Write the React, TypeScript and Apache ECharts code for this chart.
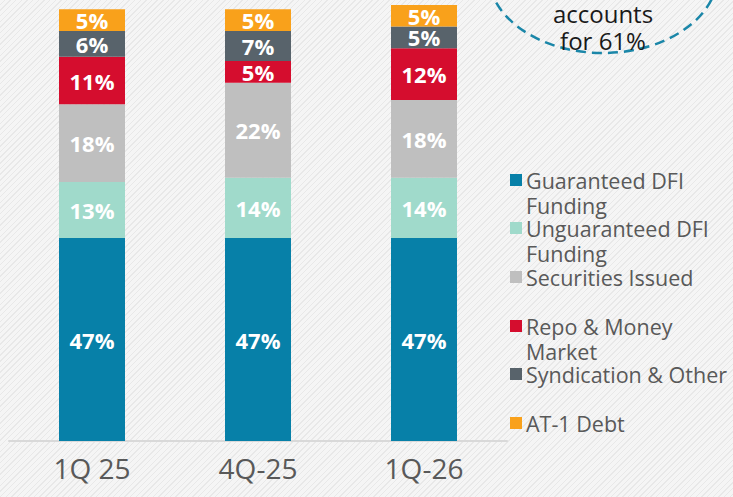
import React, { useEffect, useRef } from "react";
import * as echarts from "echarts";

const categories = ["1Q 25", "4Q-25", "1Q-26"];
const seriesNames = [
  "Guaranteed DFI Funding",
  "Unguaranteed DFI Funding",
  "Securities Issued",
  "Repo & Money Market",
  "Syndication & Other",
  "AT-1 Debt",
];
const guaranteed = [47, 47, 47];
const unguaranteed = [13, 14, 14];
const securities = [18, 22, 18];
const repo = [11, 5, 12];
const syndication = [6, 7, 5];
const at1 = [5, 5, 5];
const legendLabels = [
  "Guaranteed DFI\nFunding",
  "Unguaranteed DFI\nFunding",
  "Securities Issued",
  "Repo & Money\nMarket",
  "Syndication & Other",
  "AT-1 Debt",
];
const calloutLines = ["accounts", "for 61%"];

const colors = ["#0780A8", "#A0DACB", "#BFBFBF", "#D50D2E", "#58636B", "#F9A11B"];
const iconCenters = [180, 228, 277, 326, 374, 423];

export default function App() {
  const ref = useRef<HTMLDivElement>(null);
  useEffect(() => {
    const chart = echarts.init(ref.current!, null, { renderer: "svg" });
    const values = [guaranteed, unguaranteed, securities, repo, syndication, at1];
    const font = "'Open Sans', 'Noto Sans', sans-serif";
    const legends = seriesNames.map((name, i) => {
      const twoLine = legendLabels[i].includes("\n");
      return {
        data: [name],
        orient: "vertical",
        left: 510,
        top: iconCenters[i] - (twoLine ? 37.5 : 12.5),
        padding: 0,
        itemWidth: 12,
        itemHeight: 12,
        itemGap: 0,
        icon: "rect",
        selectedMode: false,
        formatter: () => (twoLine ? "\n" + legendLabels[i] : legendLabels[i]),
        textStyle: {
          color: "#595959",
          fontSize: 21.5,
          lineHeight: 25,
          fontFamily: font,
          padding: [0, 0, 0, -1],
        },
      };
    });
    chart.setOption({
      animation: false,
      color: colors,
      grid: { left: 9, right: 226, top: 5, bottom: 56, containLabel: false },
      legend: legends,
      xAxis: {
        type: "category",
        data: categories,
        axisLine: { show: true, lineStyle: { color: "#D9D9D9", width: 2 } },
        axisTick: { show: false },
        axisLabel: {
          color: "#595959",
          fontSize: 28,
          fontFamily: font,
          margin: 13,
        },
      },
      yAxis: {
        type: "value",
        min: 0,
        max: 101,
        show: false,
      },
      graphic: [
        {
          type: "ellipse",
          shape: { cx: 603, cy: -27, rx: 115, ry: 80 },
          style: { fill: "none", stroke: "#1A86A8", lineWidth: 2.5, lineDash: [10, 6] },
          silent: true,
        },
        {
          type: "text",
          x: 603,
          y: 13,
          style: {
            text: calloutLines[0],
            fill: "#1A1A1A",
            fontSize: 24,
            fontFamily: font,
            align: "center",
            verticalAlign: "middle",
          },
        },
        {
          type: "text",
          x: 603,
          y: 40,
          style: {
            text: calloutLines[1],
            fill: "#1A1A1A",
            fontSize: 24,
            fontFamily: font,
            align: "center",
            verticalAlign: "middle",
          },
        },
      ],
      series: seriesNames.map((name, i) => ({
        name,
        type: "bar",
        stack: "total",
        barWidth: 66,
        data: values[i],
        itemStyle: { color: colors[i] },
        label: {
          show: true,
          position: "inside",
          formatter: (p: any) => p.value + "%",
          color: "#FFFFFF",
          fontWeight: "bold",
          fontSize: 22,
          fontFamily: font,
        },
      })),
    });
    return () => chart.dispose();
  }, []);
  return (
    <div
      ref={ref}
      style={{
        position: "fixed",
        left: 0,
        top: 0,
        width: 733,
        height: 497,
        background:
          "repeating-linear-gradient(135deg, #F5F5F5 0px, #F5F5F5 3px, #E8E8E8 3px, #E8E8E8 4px)",
      }}
    />
  );
}
